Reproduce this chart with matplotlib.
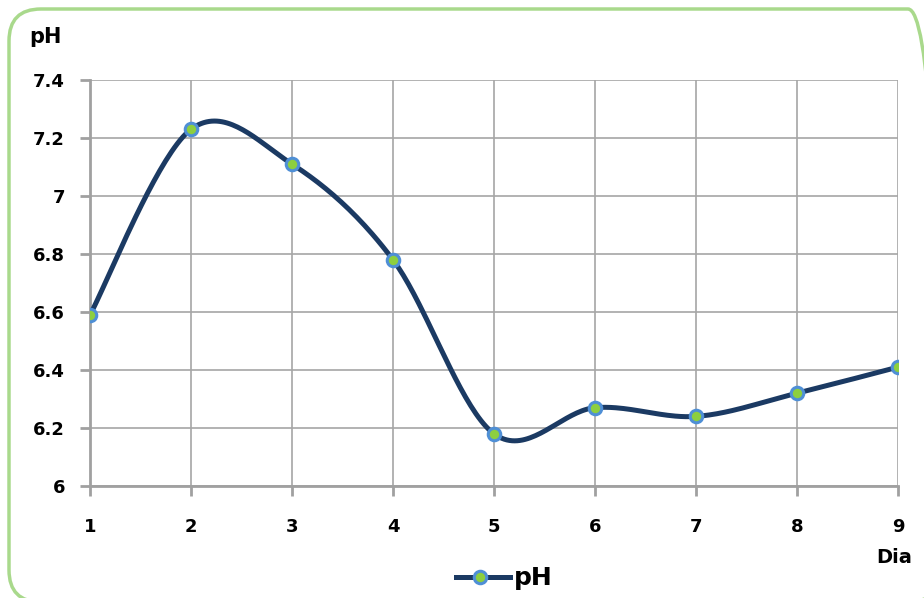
from matplotlib import use
use('Agg')
import matplotlib.pyplot as plt
from matplotlib.patches import FancyBboxPatch
from matplotlib.transforms import IdentityTransform
import numpy as np

dias = [1, 2, 3, 4, 5, 6, 7, 8, 9]
ph = [6.59, 7.23, 7.11, 6.78, 6.18, 6.27, 6.24, 6.32, 6.41]
yticks = [6, 6.2, 6.4, 6.6, 6.8, 7, 7.2, 7.4]
ylabels = ['6', '6.2', '6.4', '6.6', '6.8', '7', '7.2', '7.4']


def smooth(xs, ys, n=40):
    # Excel-style smoothed line: cubic bezier with catmull-rom control points
    xs = np.asarray(xs, float)
    ys = np.asarray(ys, float)
    px, py = [], []
    for i in range(len(xs) - 1):
        x0, y0 = (xs[i - 1], ys[i - 1]) if i > 0 else (xs[i], ys[i])
        x3, y3 = (xs[i + 2], ys[i + 2]) if i + 2 < len(xs) else (xs[i + 1], ys[i + 1])
        x1, y1 = xs[i], ys[i]
        x2, y2 = xs[i + 1], ys[i + 1]
        c1 = (x1 + (x2 - x0) / 6, y1 + (y2 - y0) / 6)
        c2 = (x2 - (x3 - x1) / 6, y2 - (y3 - y1) / 6)
        t = np.linspace(0, 1, n)
        bx = (1-t)**3*x1 + 3*(1-t)**2*t*c1[0] + 3*(1-t)*t**2*c2[0] + t**3*x2
        by = (1-t)**3*y1 + 3*(1-t)**2*t*c1[1] + 3*(1-t)*t**2*c2[1] + t**3*y2
        px.extend(bx)
        py.extend(by)
    return px, py


fig = plt.figure(figsize=(9.24, 5.98), dpi=100)
# rounded green frame, in pixels (runs off the right and bottom edges)
border = FancyBboxPatch((9, -4), 931, 593, boxstyle="round,pad=0,rounding_size=32",
                        transform=IdentityTransform(), fill=False, edgecolor='#a9d98c',
                        linewidth=2.5)
fig.patches.append(border)

ax = fig.add_axes([0.0974, 0.1873, 0.8745, 0.6789])
sx, sy = smooth(dias, ph)
ax.plot(sx, sy, color='#1b3a63', linewidth=3.6, solid_capstyle='round', zorder=3)
ax.plot(dias, ph, linestyle='none', marker='o', markersize=9, markerfacecolor='#8dcf3f',
        markeredgecolor='#4f8fd6', markeredgewidth=2.2, zorder=4)

ax.set_xlim(1, 9)
ax.set_ylim(6, 7.4)
ax.set_xticks(dias)
ax.set_yticks(yticks)
ax.set_yticklabels(ylabels)
ax.grid(True, color='#a6a6a6', linewidth=1.2)
ax.set_axisbelow(True)
for s in ['top', 'right']:
    ax.spines[s].set_visible(False)
for s in ['left', 'bottom']:
    ax.spines[s].set_color('#a0a0a0')
    ax.spines[s].set_linewidth(2)
ax.tick_params(axis='both', length=7, width=2, color='#a0a0a0', direction='out', labelsize=13)
ax.tick_params(axis='x', pad=16)
ax.tick_params(axis='y', pad=11)
for lab in ax.get_xticklabels() + ax.get_yticklabels():
    lab.set_fontweight('bold')

fig.text(0.032, 0.938, 'pH', fontsize=15, fontweight='bold', ha='left', va='center')
fig.text(0.968, 0.068, 'Dia', fontsize=14, fontweight='bold', ha='center', va='center')

# legend drawn in figure coords
fig.lines.append(plt.Line2D([0.493, 0.552], [0.035, 0.035], transform=fig.transFigure,
                            color='#1b3a63', linewidth=3.6))
fig.lines.append(plt.Line2D([0.520], [0.035], transform=fig.transFigure, marker='o',
                            markersize=9, markerfacecolor='#8dcf3f', markeredgecolor='#4f8fd6',
                            markeredgewidth=2.2))
fig.text(0.556, 0.033, 'pH', fontsize=18, fontweight='bold', ha='left', va='center')

fig.savefig('out.png', dpi=100)
